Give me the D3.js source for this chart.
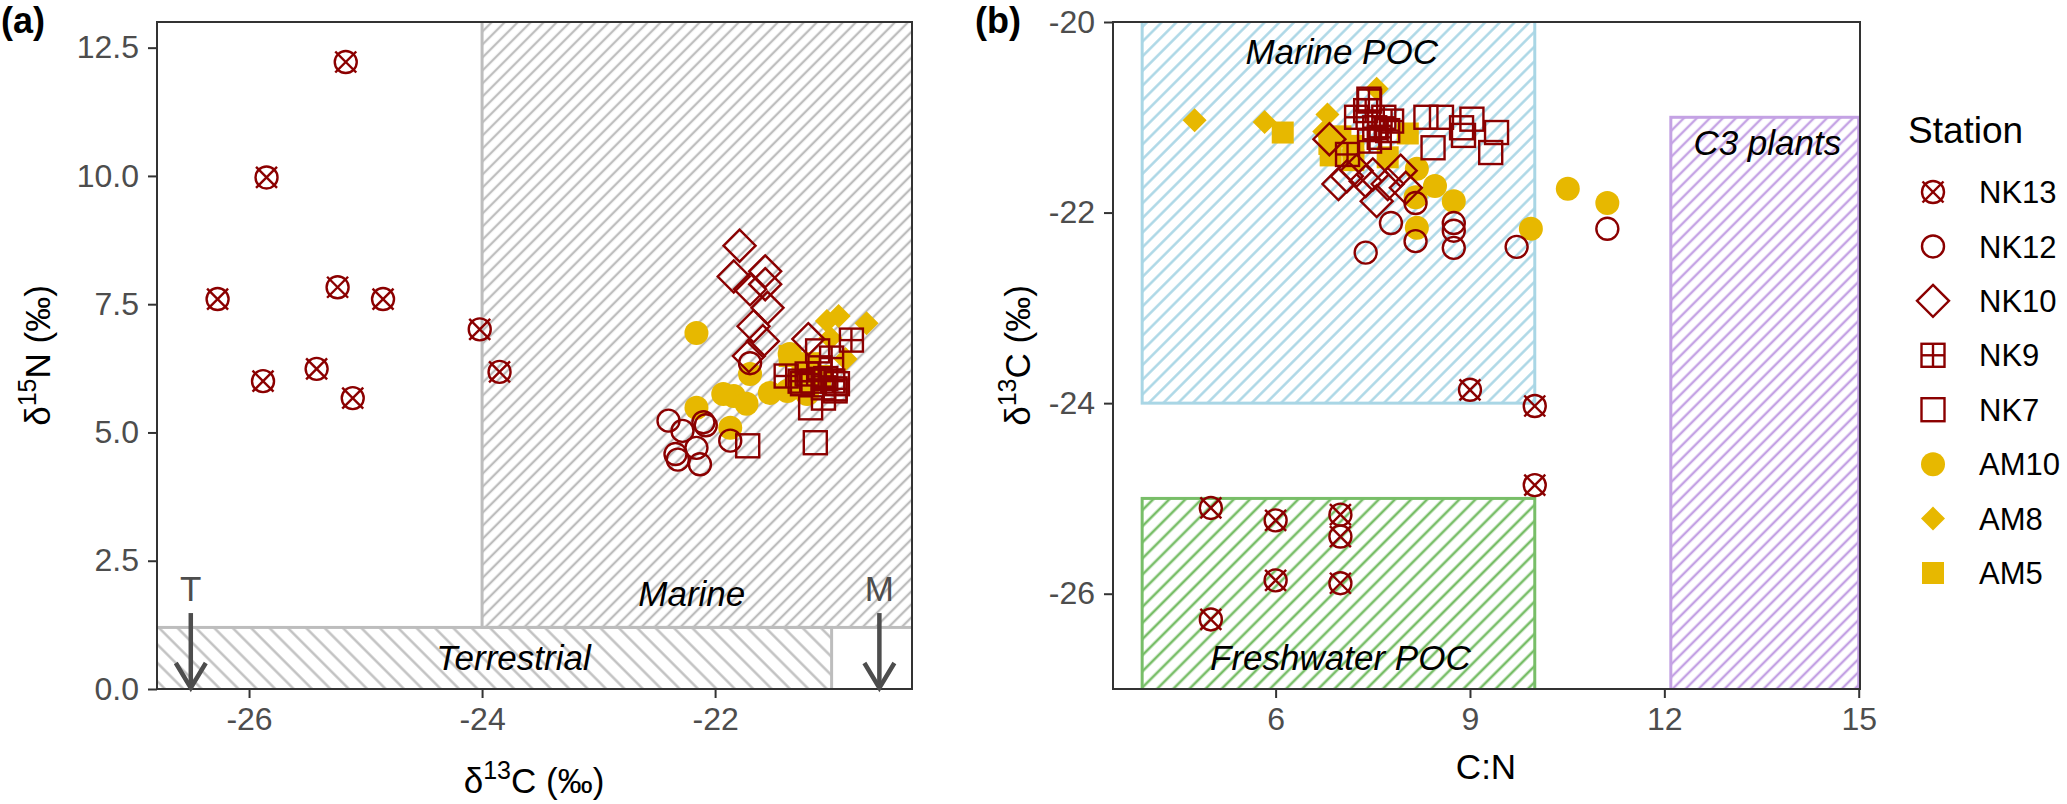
<!DOCTYPE html>
<html>
<head>
<meta charset="utf-8">
<script src="https://cdn.jsdelivr.net/npm/d3@7"></script>
<style>
  body { margin: 0; background: #fff; }
  text { font-family: "Liberation Sans", Arial, sans-serif; }
</style>
</head>
<body>
<div id="chart"></div>
<script>
// ---- data ----
const stations = ["NK13", "NK12", "NK10", "NK9", "NK7", "AM10", "AM8", "AM5"];

// panel (a): [d13C, d15N]
const a_NK13 = [[-25.17, 12.22], [-25.85, 9.97], [-26.27, 7.6], [-25.24, 7.83], [-24.85, 7.6],
  [-24.02, 7.01], [-23.85, 6.18], [-25.88, 6.0], [-25.42, 6.24], [-25.11, 5.67]];
const a_NK12 = [[-22.4, 5.23], [-22.28, 5.03], [-22.34, 4.58], [-22.32, 4.47], [-22.1, 5.2],
  [-22.08, 5.14], [-22.16, 4.7], [-22.13, 4.38], [-21.87, 4.84], [-21.7, 6.35]];
const a_NK10 = [[-21.79, 8.64], [-21.84, 8.04], [-21.57, 8.14], [-21.57, 7.89], [-21.7, 7.79],
  [-21.55, 7.43], [-21.67, 7.07], [-21.59, 6.78], [-21.71, 6.49], [-21.2, 6.82]];
const a_NK9 = [[-20.83, 6.8], [-21.39, 6.1], [-21.21, 6.14], [-21.1, 6.26], [-21.0, 6.45],
  [-20.99, 6.0], [-21.07, 5.87], [-21.16, 6.0], [-21.27, 6.0], [-20.97, 5.85]];
const a_NK7 = [[-21.72, 4.74], [-21.14, 4.8], [-21.18, 5.48], [-21.07, 5.67], [-20.97, 5.81],
  [-21.12, 6.59], [-21.25, 5.95], [-21.05, 6.05], [-20.95, 5.95]];
const a_AM10 = [[-22.16, 6.94], [-21.7, 6.14], [-21.84, 5.71], [-21.93, 5.75], [-21.73, 5.56],
  [-21.53, 5.77], [-22.16, 5.48], [-21.87, 5.09], [-21.36, 6.53], [-21.3, 6.0], [-21.21, 5.75], [-21.38, 5.81]];
const a_AM8 = [[-21.04, 7.17], [-20.94, 7.27], [-20.7, 7.13], [-20.88, 6.43], [-21.01, 6.84]];
const a_AM5 = [[-21.36, 6.49], [-21.3, 5.87], [-21.2, 6.35], [-21.1, 6.1], [-21.25, 6.2]];

// panel (b): [C:N, d13C]
const b_NK13 = [[9.0, -23.86], [10.0, -24.03], [10.0, -24.86], [5.0, -25.1], [6.0, -25.23],
  [7.0, -25.17], [7.0, -25.4], [6.0, -25.86], [7.0, -25.89], [5.0, -26.27]];
const b_NK12 = [[7.78, -22.11], [7.39, -22.42], [8.16, -22.3], [8.75, -22.11], [8.75, -22.19],
  [8.75, -22.37], [9.72, -22.36], [11.12, -22.17], [8.16, -21.9]];
const b_NK10 = [[6.97, -21.7], [7.93, -21.56], [7.56, -21.88], [7.25, -21.56], [7.39, -21.67],
  [7.73, -21.7], [6.83, -21.23], [8.01, -21.74], [7.1, -21.62], [7.5, -21.6]];
const b_NK9 = [[7.44, -20.81], [7.67, -21.0], [7.73, -21.14], [7.25, -21.0], [7.11, -21.39],
  [7.45, -21.25], [7.53, -21.11], [7.79, -21.04], [7.39, -20.93], [7.6, -21.21]];
const b_NK7 = [[8.32, -21.0], [8.56, -21.0], [9.03, -21.02], [8.87, -21.11], [8.9, -21.19],
  [9.41, -21.16], [9.32, -21.37], [8.43, -21.32], [7.45, -20.83]];
const b_AM10 = [[8.18, -21.54], [8.46, -21.72], [8.75, -21.88], [8.16, -21.84], [8.18, -22.16],
  [9.94, -22.17], [10.51, -21.75], [11.12, -21.9]];
const b_AM8 = [[4.75, -21.03], [5.83, -21.05], [6.8, -20.97], [7.56, -20.7], [6.75, -21.15]];
const b_AM5 = [[6.11, -21.16], [8.04, -21.17], [6.83, -21.28], [7.73, -21.42], [7.2, -21.3],
  [7.0, -21.2], [6.85, -21.4], [7.2, -21.45]];

// source regions
const regionsA = [
  { name: "Marine", x0: -24, x1: -19, y0: 1.2, y1: 14 },
  { name: "Terrestrial", x0: -28, x1: -21, y0: -1, y1: 1.2 },
];
const regionsB = [
  { name: "Marine POC", x0: 3.94, x1: 10, y0: -24, y1: -19 },
  { name: "Freshwater POC", x0: 3.94, x1: 10, y0: -28, y1: -25 },
  { name: "C3 plants", x0: 12.1, x1: 15, y0: -28, y1: -21 },
];

const ticksA_x = [-26, -24, -22];
const ticksA_y = [0, 2.5, 5, 7.5, 10, 12.5];
const ticksB_x = [6, 9, 12, 15];
const ticksB_y = [-26, -24, -22, -20];

// ---- setup ----
const W = 2067, H = 804;
const plotTop = 22, plotBottom = 689;
const red = "#8B0000", gold = "#E7B800";
const tickColor = "#4d4d4d";

const svg = d3.select("#chart").append("svg")
  .attr("width", W).attr("height", H)
  .attr("viewBox", `0 0 ${W} ${H}`);

const defs = svg.append("defs");
function hatch(id, color, spacing, angle, width) {
  const p = defs.append("pattern")
    .attr("id", id)
    .attr("patternUnits", "userSpaceOnUse")
    .attr("width", spacing).attr("height", spacing)
    .attr("patternTransform", `rotate(${angle})`);
  p.append("line")
    .attr("x1", spacing / 2).attr("y1", -1)
    .attr("x2", spacing / 2).attr("y2", spacing + 1)
    .attr("stroke", color).attr("stroke-width", width);
}
hatch("h-marine", "#bdbdbd", 9.2, 45, 2.3);
hatch("h-terr", "#bdbdbd", 13, -45, 2.3);
hatch("h-mpoc", "#a9d6e5", 10.4, 45, 2.4);
hatch("h-fpoc", "#78be68", 11.4, 45, 2.6);
hatch("h-c3", "#c4a2e4", 9.2, 45, 2.4);

const patternOf = {
  "Marine": ["h-marine", "#bdbdbd"],
  "Terrestrial": ["h-terr", "#bdbdbd"],
  "Marine POC": ["h-mpoc", "#a9d6e5"],
  "Freshwater POC": ["h-fpoc", "#78be68"],
  "C3 plants": ["h-c3", "#c4a2e4"],
};

// marker drawing, ggplot-like shapes
const shapeOf = {
  NK13: "circlecross", NK12: "circle", NK10: "diamond", NK9: "squareplus",
  NK7: "square", AM10: "dot", AM8: "fdiamond", AM5: "fsquare",
};
function marker(g, st, cx, cy) {
  const s = shapeOf[st];
  const c = st.startsWith("NK") ? red : gold;
  const m = g.append("g").attr("transform", `translate(${cx},${cy})`);
  const line = (x1, y1, x2, y2) => m.append("line")
    .attr("x1", x1).attr("y1", y1).attr("x2", x2).attr("y2", y2)
    .attr("stroke", c).attr("stroke-width", 2.4);
  if (s === "circle" || s === "circlecross") {
    m.append("circle").attr("r", 11).attr("fill", "none")
      .attr("stroke", c).attr("stroke-width", 2.4);
    if (s === "circlecross") { line(-10.5, -10.5, 10.5, 10.5); line(-10.5, 10.5, 10.5, -10.5); }
  } else if (s === "diamond") {
    m.append("path").attr("d", "M0,-16L16,0L0,16L-16,0Z").attr("fill", "none")
      .attr("stroke", c).attr("stroke-width", 2.4);
  } else if (s === "square" || s === "squareplus") {
    m.append("rect").attr("x", -11.5).attr("y", -11.5).attr("width", 23).attr("height", 23)
      .attr("fill", "none").attr("stroke", c).attr("stroke-width", 2.4);
    if (s === "squareplus") { line(0, -11.5, 0, 11.5); line(-11.5, 0, 11.5, 0); }
  } else if (s === "dot") {
    m.append("circle").attr("r", 12).attr("fill", c);
  } else if (s === "fdiamond") {
    m.append("path").attr("d", "M0,-12L12,0L0,12L-12,0Z").attr("fill", c);
  } else if (s === "fsquare") {
    m.append("rect").attr("x", -11).attr("y", -11).attr("width", 22).attr("height", 22).attr("fill", c);
  }
}

function styleAxis(g) {
  g.select(".domain").remove();
  g.selectAll(".tick line").attr("stroke", "#333").attr("stroke-width", 2);
  g.selectAll(".tick text").attr("fill", tickColor).attr("font-size", 32)
    .attr("font-family", '"Liberation Sans", Arial, sans-serif');
}

function panel(opts) {
  const { id, x, y, regions, series, xticks, yticks, xfmt, yfmt } = opts;
  const [x0, x1] = x.range();
  const g = svg.append("g");

  defs.append("clipPath").attr("id", "clip-" + id)
    .append("rect").attr("x", x0).attr("y", plotTop).attr("width", x1 - x0).attr("height", plotBottom - plotTop);
  const inner = g.append("g").attr("clip-path", `url(#clip-${id})`);

  // hatched regions
  inner.selectAll("rect.region")
    .data(regions)
    .join("rect")
    .attr("class", "region")
    .attr("x", (d) => x(d.x0))
    .attr("y", (d) => y(d.y1))
    .attr("width", (d) => x(d.x1) - x(d.x0))
    .attr("height", (d) => y(d.y0) - y(d.y1))
    .attr("fill", (d) => `url(#${patternOf[d.name][0]})`)
    .attr("stroke", (d) => patternOf[d.name][1])
    .attr("stroke-width", 3);

  const labels = inner.append("g");
  const points = inner.append("g");
  // yellow stations first, red stations on top
  const order = ["AM5", "AM8", "AM10", "NK7", "NK9", "NK10", "NK12", "NK13"];
  for (const st of order) {
    for (const p of series[st]) marker(points, st, x(p[0]), y(p[1]));
  }

  // axes
  g.append("g").attr("transform", `translate(0,${plotBottom})`)
    .call(d3.axisBottom(x).tickValues(xticks).tickSize(9).tickPadding(9).tickFormat(xfmt))
    .call(styleAxis);
  g.append("g").attr("transform", `translate(${x0},0)`)
    .call(d3.axisLeft(y).tickValues(yticks).tickSize(9).tickPadding(9).tickFormat(yfmt))
    .call(styleAxis);

  // panel border
  g.append("rect").attr("x", x0).attr("y", plotTop)
    .attr("width", x1 - x0).attr("height", plotBottom - plotTop)
    .attr("fill", "none").attr("stroke", "#333").attr("stroke-width", 2);

  return { g, inner, labels };
}

// plain hyphen minus like the original
const intFmt = (d) => String(d);
const oneDec = (d) => d.toFixed(1);

// ---- panel (a) ----
const ax = d3.scaleLinear().domain([-26.79, -20.31]).range([157, 912]);
const ay = d3.scaleLinear().domain([0, 13]).range([plotBottom, plotTop]);
const pa = panel({
  id: "a", x: ax, y: ay, regions: regionsA,
  series: { NK13: a_NK13, NK12: a_NK12, NK10: a_NK10, NK9: a_NK9, NK7: a_NK7, AM10: a_AM10, AM8: a_AM8, AM5: a_AM5 },
  xticks: ticksA_x, yticks: ticksA_y, xfmt: intFmt, yfmt: oneDec,
});

pa.labels.append("text").attr("x", ax(-22.2)).attr("y", ay(1.85)).attr("dy", "0.35em")
  .attr("text-anchor", "middle").attr("font-size", 35).attr("font-style", "italic").text("Marine");
pa.labels.append("text").attr("x", ax(-23.73)).attr("y", ay(0.6)).attr("dy", "0.35em")
  .attr("text-anchor", "middle").attr("font-size", 35).attr("font-style", "italic").text("Terrestrial");

// end-member arrows
const arrows = [{ label: "T", x: -26.5 }, { label: "M", x: -20.59 }];
for (const a of arrows) {
  const cx = ax(a.x);
  const ag = svg.append("g").attr("stroke", tickColor).attr("stroke-width", 4.5).attr("fill", "none");
  ag.append("line").attr("x1", cx).attr("y1", ay(1.48)).attr("x2", cx).attr("y2", ay(0) - 1);
  ag.append("path").attr("d", `M${cx - 15},${ay(0) - 26}L${cx},${ay(0) - 1}L${cx + 15},${ay(0) - 26}`);
  svg.append("text").attr("x", cx).attr("y", ay(1.96)).attr("dy", "0.35em")
    .attr("text-anchor", "middle").attr("font-size", 35).attr("fill", tickColor).text(a.label);
}

// ---- panel (b) ----
const bx = d3.scaleLinear().domain([3.49, 15.02]).range([1113, 1860]);
const by = d3.scaleLinear().domain([-27, -20]).range([plotBottom, plotTop]);
const pb = panel({
  id: "b", x: bx, y: by, regions: regionsB,
  series: { NK13: b_NK13, NK12: b_NK12, NK10: b_NK10, NK9: b_NK9, NK7: b_NK7, AM10: b_AM10, AM8: b_AM8, AM5: b_AM5 },
  xticks: ticksB_x, yticks: ticksB_y, xfmt: intFmt, yfmt: intFmt,
});
const labB = [
  { t: "Marine POC", x: 7.02, y: -20.31 },
  { t: "Freshwater POC", x: 7.0, y: -26.67 },
  { t: "C3 plants", x: 13.59, y: -21.27 },
];
pb.labels.selectAll("text").data(labB).join("text")
  .attr("x", (d) => bx(d.x)).attr("y", (d) => by(d.y)).attr("dy", "0.35em")
  .attr("text-anchor", "middle").attr("font-size", 35).attr("font-style", "italic")
  .text((d) => d.t);

// ---- axis titles ----
function isoTitle(sel, mass, el) {
  sel.append("tspan").text("δ");
  sel.append("tspan").attr("font-size", 25).attr("dy", -14).text(mass);
  sel.append("tspan").attr("dy", 14).text(el + " (‰)");
}
svg.append("text").attr("x", 534).attr("y", 793).attr("text-anchor", "middle")
  .attr("font-size", 35).call(isoTitle, "13", "C");
svg.append("text").attr("transform", `translate(50,${(plotTop + plotBottom) / 2}) rotate(-90)`)
  .attr("text-anchor", "middle").attr("font-size", 35).call(isoTitle, "15", "N");
svg.append("text").attr("x", 1486).attr("y", 779).attr("text-anchor", "middle")
  .attr("font-size", 35).text("C:N");
svg.append("text").attr("transform", `translate(1030,${(plotTop + plotBottom) / 2}) rotate(-90)`)
  .attr("text-anchor", "middle").attr("font-size", 35).call(isoTitle, "13", "C");

// panel tags
svg.append("text").attr("x", 1).attr("y", 33).attr("font-size", 36).attr("font-weight", "bold").text("(a)");
svg.append("text").attr("x", 975).attr("y", 33).attr("font-size", 36).attr("font-weight", "bold").text("(b)");

// ---- legend ----
const leg = svg.append("g");
leg.append("text").attr("x", 1908).attr("y", 143).attr("font-size", 37).text("Station");
const legY = d3.scalePoint().domain(stations).range([192, 573]);
for (const st of stations) {
  marker(leg, st, 1933, legY(st));
  leg.append("text").attr("x", 1979).attr("y", legY(st)).attr("dy", "0.36em")
    .attr("font-size", 31).text(st);
}
</script>
</body>
</html>
